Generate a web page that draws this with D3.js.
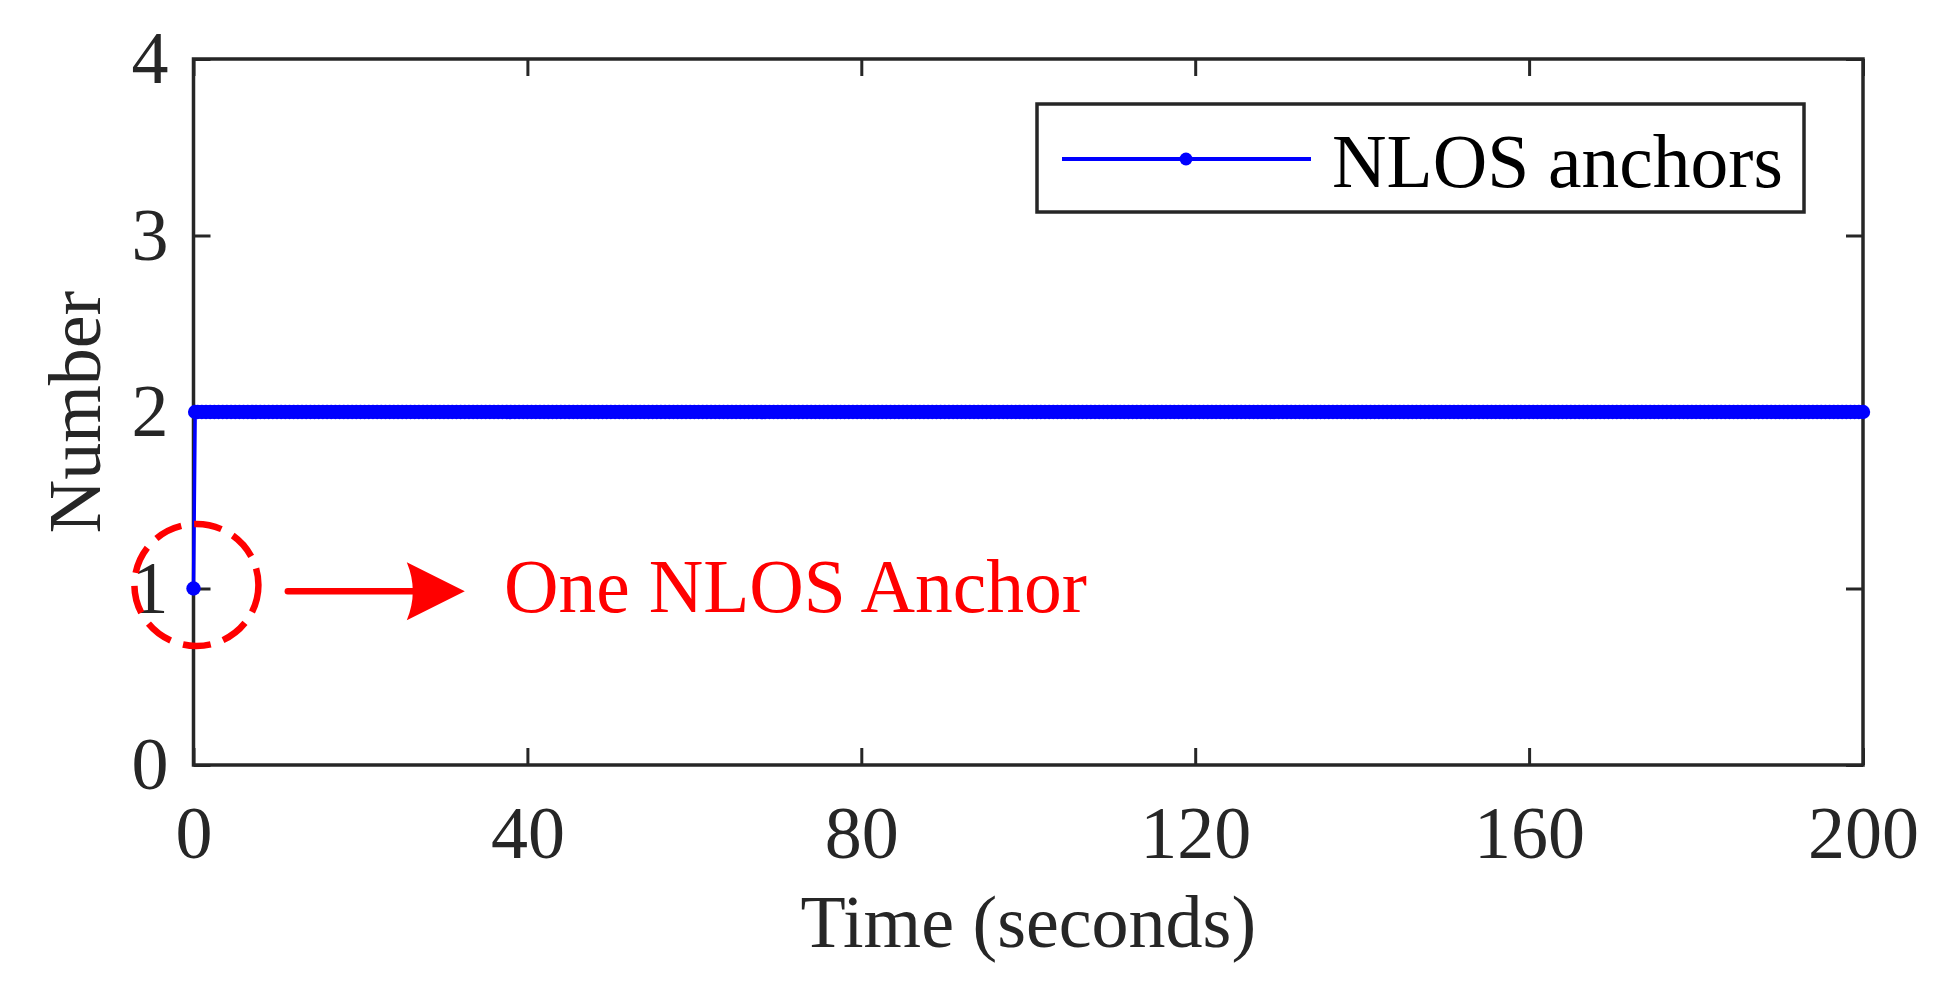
<!DOCTYPE html>
<html>
<head>
<meta charset="utf-8">
<script src="https://cdn.jsdelivr.net/npm/d3@7"></script>
<style>
  body { margin: 0; background: #fff; }
  text { font-family: "Liberation Serif", "Times New Roman", serif; }
</style>
</head>
<body>
<script>
// time samples (s) and number of NLOS anchors
const timeSec = [
  0, 0.2,
  0.5, 1, 1.5, 2, 2.5, 3, 3.5, 4, 4.5, 5, 5.5, 6, 6.5, 7, 7.5, 8, 8.5, 9, 9.5, 10,
  10.5, 11, 11.5, 12, 12.5, 13, 13.5, 14, 14.5, 15, 15.5, 16, 16.5, 17, 17.5, 18, 18.5, 19, 19.5, 20,
  20.5, 21, 21.5, 22, 22.5, 23, 23.5, 24, 24.5, 25, 25.5, 26, 26.5, 27, 27.5, 28, 28.5, 29, 29.5, 30,
  30.5, 31, 31.5, 32, 32.5, 33, 33.5, 34, 34.5, 35, 35.5, 36, 36.5, 37, 37.5, 38, 38.5, 39, 39.5, 40,
  40.5, 41, 41.5, 42, 42.5, 43, 43.5, 44, 44.5, 45, 45.5, 46, 46.5, 47, 47.5, 48, 48.5, 49, 49.5, 50,
  50.5, 51, 51.5, 52, 52.5, 53, 53.5, 54, 54.5, 55, 55.5, 56, 56.5, 57, 57.5, 58, 58.5, 59, 59.5, 60,
  60.5, 61, 61.5, 62, 62.5, 63, 63.5, 64, 64.5, 65, 65.5, 66, 66.5, 67, 67.5, 68, 68.5, 69, 69.5, 70,
  70.5, 71, 71.5, 72, 72.5, 73, 73.5, 74, 74.5, 75, 75.5, 76, 76.5, 77, 77.5, 78, 78.5, 79, 79.5, 80,
  80.5, 81, 81.5, 82, 82.5, 83, 83.5, 84, 84.5, 85, 85.5, 86, 86.5, 87, 87.5, 88, 88.5, 89, 89.5, 90,
  90.5, 91, 91.5, 92, 92.5, 93, 93.5, 94, 94.5, 95, 95.5, 96, 96.5, 97, 97.5, 98, 98.5, 99, 99.5, 100,
  100.5, 101, 101.5, 102, 102.5, 103, 103.5, 104, 104.5, 105, 105.5, 106, 106.5, 107, 107.5, 108, 108.5, 109, 109.5, 110,
  110.5, 111, 111.5, 112, 112.5, 113, 113.5, 114, 114.5, 115, 115.5, 116, 116.5, 117, 117.5, 118, 118.5, 119, 119.5, 120,
  120.5, 121, 121.5, 122, 122.5, 123, 123.5, 124, 124.5, 125, 125.5, 126, 126.5, 127, 127.5, 128, 128.5, 129, 129.5, 130,
  130.5, 131, 131.5, 132, 132.5, 133, 133.5, 134, 134.5, 135, 135.5, 136, 136.5, 137, 137.5, 138, 138.5, 139, 139.5, 140,
  140.5, 141, 141.5, 142, 142.5, 143, 143.5, 144, 144.5, 145, 145.5, 146, 146.5, 147, 147.5, 148, 148.5, 149, 149.5, 150,
  150.5, 151, 151.5, 152, 152.5, 153, 153.5, 154, 154.5, 155, 155.5, 156, 156.5, 157, 157.5, 158, 158.5, 159, 159.5, 160,
  160.5, 161, 161.5, 162, 162.5, 163, 163.5, 164, 164.5, 165, 165.5, 166, 166.5, 167, 167.5, 168, 168.5, 169, 169.5, 170,
  170.5, 171, 171.5, 172, 172.5, 173, 173.5, 174, 174.5, 175, 175.5, 176, 176.5, 177, 177.5, 178, 178.5, 179, 179.5, 180,
  180.5, 181, 181.5, 182, 182.5, 183, 183.5, 184, 184.5, 185, 185.5, 186, 186.5, 187, 187.5, 188, 188.5, 189, 189.5, 190,
  190.5, 191, 191.5, 192, 192.5, 193, 193.5, 194, 194.5, 195, 195.5, 196, 196.5, 197, 197.5, 198, 198.5, 199, 199.5, 200
];
const nlosCount = [
  1, 2,
  2, 2, 2, 2, 2, 2, 2, 2, 2, 2, 2, 2, 2, 2, 2, 2, 2, 2, 2, 2,
  2, 2, 2, 2, 2, 2, 2, 2, 2, 2, 2, 2, 2, 2, 2, 2, 2, 2, 2, 2,
  2, 2, 2, 2, 2, 2, 2, 2, 2, 2, 2, 2, 2, 2, 2, 2, 2, 2, 2, 2,
  2, 2, 2, 2, 2, 2, 2, 2, 2, 2, 2, 2, 2, 2, 2, 2, 2, 2, 2, 2,
  2, 2, 2, 2, 2, 2, 2, 2, 2, 2, 2, 2, 2, 2, 2, 2, 2, 2, 2, 2,
  2, 2, 2, 2, 2, 2, 2, 2, 2, 2, 2, 2, 2, 2, 2, 2, 2, 2, 2, 2,
  2, 2, 2, 2, 2, 2, 2, 2, 2, 2, 2, 2, 2, 2, 2, 2, 2, 2, 2, 2,
  2, 2, 2, 2, 2, 2, 2, 2, 2, 2, 2, 2, 2, 2, 2, 2, 2, 2, 2, 2,
  2, 2, 2, 2, 2, 2, 2, 2, 2, 2, 2, 2, 2, 2, 2, 2, 2, 2, 2, 2,
  2, 2, 2, 2, 2, 2, 2, 2, 2, 2, 2, 2, 2, 2, 2, 2, 2, 2, 2, 2,
  2, 2, 2, 2, 2, 2, 2, 2, 2, 2, 2, 2, 2, 2, 2, 2, 2, 2, 2, 2,
  2, 2, 2, 2, 2, 2, 2, 2, 2, 2, 2, 2, 2, 2, 2, 2, 2, 2, 2, 2,
  2, 2, 2, 2, 2, 2, 2, 2, 2, 2, 2, 2, 2, 2, 2, 2, 2, 2, 2, 2,
  2, 2, 2, 2, 2, 2, 2, 2, 2, 2, 2, 2, 2, 2, 2, 2, 2, 2, 2, 2,
  2, 2, 2, 2, 2, 2, 2, 2, 2, 2, 2, 2, 2, 2, 2, 2, 2, 2, 2, 2,
  2, 2, 2, 2, 2, 2, 2, 2, 2, 2, 2, 2, 2, 2, 2, 2, 2, 2, 2, 2,
  2, 2, 2, 2, 2, 2, 2, 2, 2, 2, 2, 2, 2, 2, 2, 2, 2, 2, 2, 2,
  2, 2, 2, 2, 2, 2, 2, 2, 2, 2, 2, 2, 2, 2, 2, 2, 2, 2, 2, 2,
  2, 2, 2, 2, 2, 2, 2, 2, 2, 2, 2, 2, 2, 2, 2, 2, 2, 2, 2, 2,
  2, 2, 2, 2, 2, 2, 2, 2, 2, 2, 2, 2, 2, 2, 2, 2, 2, 2, 2, 2
];
const xTicks = [0, 40, 80, 120, 160, 200];
const yTicks = [0, 1, 2, 3, 4];
const seriesName = "NLOS anchors";
const noteText = "One NLOS Anchor";

const W = 1952, H = 999;
const plotLeft = 193.5, plotRight = 1863, plotTop = 59, plotBottom = 765;
const axisColor = "#262626";
const fontSize = 74;
const bigFont = 75.5;

const svg = d3.select("body").append("svg")
    .attr("width", W)
    .attr("height", H);

const x = d3.scaleLinear().domain([0, 200]).range([plotLeft, plotRight]);
const y = d3.scaleLinear().domain([0, 4]).range([plotBottom, plotTop]);

// axes, ticks pointing inward on all four sides
function styleAxis(g, showText) {
    g.select(".domain").remove();
    g.selectAll(".tick line").attr("stroke", axisColor).attr("stroke-width", 3);
    g.selectAll(".tick text")
        .attr("fill", axisColor)
        .style("font-size", fontSize + "px")
        .style("display", showText ? null : "none");
}

svg.append("g")
    .attr("transform", "translate(0," + plotBottom + ")")
    .call(d3.axisBottom(x).tickValues(xTicks).tickFormat(d3.format("d"))
        .tickSizeInner(-17).tickSizeOuter(0).tickPadding(40))
    .call(g => styleAxis(g, true));
svg.append("g")
    .attr("transform", "translate(0," + plotTop + ")")
    .call(d3.axisTop(x).tickValues(xTicks).tickSizeInner(-17).tickSizeOuter(0))
    .call(g => styleAxis(g, false));
svg.append("g")
    .attr("transform", "translate(" + plotLeft + ",0)")
    .call(d3.axisLeft(y).tickValues(yTicks).tickFormat(d3.format("d"))
        .tickSizeInner(-17).tickSizeOuter(0).tickPadding(25))
    .call(g => styleAxis(g, true));
svg.append("g")
    .attr("transform", "translate(" + plotRight + ",0)")
    .call(d3.axisRight(y).tickValues(yTicks).tickSizeInner(-17).tickSizeOuter(0))
    .call(g => styleAxis(g, false));

svg.append("rect")
    .attr("x", plotLeft).attr("y", plotTop)
    .attr("width", plotRight - plotLeft).attr("height", plotBottom - plotTop)
    .attr("fill", "none")
    .attr("stroke", axisColor)
    .attr("stroke-width", 3.5);

// axis labels
svg.append("text")
    .attr("x", (plotLeft + plotRight) / 2)
    .attr("y", 947)
    .attr("text-anchor", "middle")
    .attr("fill", axisColor)
    .style("font-size", fontSize + "px")
    .text("Time (seconds)");

svg.append("text")
    .attr("transform", "translate(100," + (plotTop + plotBottom) / 2 + ") rotate(-90)")
    .attr("text-anchor", "middle")
    .attr("fill", axisColor)
    .style("font-size", fontSize + "px")
    .text("Number");

// the series
const points = timeSec.map((t, i) => ({ t: t, n: nlosCount[i] }));

svg.append("path")
    .datum(points)
    .attr("fill", "none")
    .attr("stroke", "#0000ff")
    .attr("stroke-width", 3.5)
    .attr("d", d3.line().x(d => x(d.t)).y(d => y(d.n)));

svg.append("g")
    .selectAll("circle")
    .data(points)
    .join("circle")
    .attr("cx", d => x(d.t))
    .attr("cy", d => y(d.n))
    .attr("r", 7.2)
    .attr("fill", "#0000ff");

// annotation: dashed circle, arrow and note
const circleAt = { t: 0.35, n: 1.02 };
const arrowFrom = { t: 11.3, n: 0.985 };
const arrowTo = { t: 32.5, n: 0.985 };
const noteAt = { t: 37.2, n: 0.865 };

svg.append("ellipse")
    .attr("cx", x(circleAt.t))
    .attr("cy", y(circleAt.n))
    .attr("rx", 62)
    .attr("ry", 61)
    .attr("fill", "none")
    .attr("stroke", "#ff0000")
    .attr("stroke-width", 6.5)
    .attr("stroke-dasharray", "28,13");

const ax0 = x(arrowFrom.t), ax1 = x(arrowTo.t), ay = y(arrowFrom.n);
svg.append("line")
    .attr("x1", ax0).attr("y1", ay)
    .attr("x2", ax1 - 40).attr("y2", ay)
    .attr("stroke", "#ff0000")
    .attr("stroke-width", 6.5)
    .attr("stroke-linecap", "round");
svg.append("path")
    .attr("d", "M" + ax1 + "," + ay +
        " L" + (ax1 - 58) + "," + (ay - 29) +
        " Q" + (ax1 - 46) + "," + ay + " " + (ax1 - 58) + "," + (ay + 29) + " Z")
    .attr("fill", "#ff0000");

svg.append("text")
    .attr("x", x(noteAt.t))
    .attr("y", y(noteAt.n))
    .attr("fill", "#ff0000")
    .style("font-size", bigFont + "px")
    .text(noteText);

// legend
const lg = svg.append("g");
lg.append("rect")
    .attr("x", 1037).attr("y", 104)
    .attr("width", 767).attr("height", 108)
    .attr("fill", "#fff")
    .attr("stroke", axisColor)
    .attr("stroke-width", 3.5);
lg.append("line")
    .attr("x1", 1062).attr("y1", 159)
    .attr("x2", 1311).attr("y2", 159)
    .attr("stroke", "#0000ff")
    .attr("stroke-width", 4);
lg.append("circle")
    .attr("cx", 1186).attr("cy", 159)
    .attr("r", 6.5)
    .attr("fill", "#0000ff");
lg.append("text")
    .attr("x", 1332).attr("y", 187)
    .attr("fill", "#000")
    .style("font-size", bigFont + "px")
    .text(seriesName);
</script>
</body>
</html>
